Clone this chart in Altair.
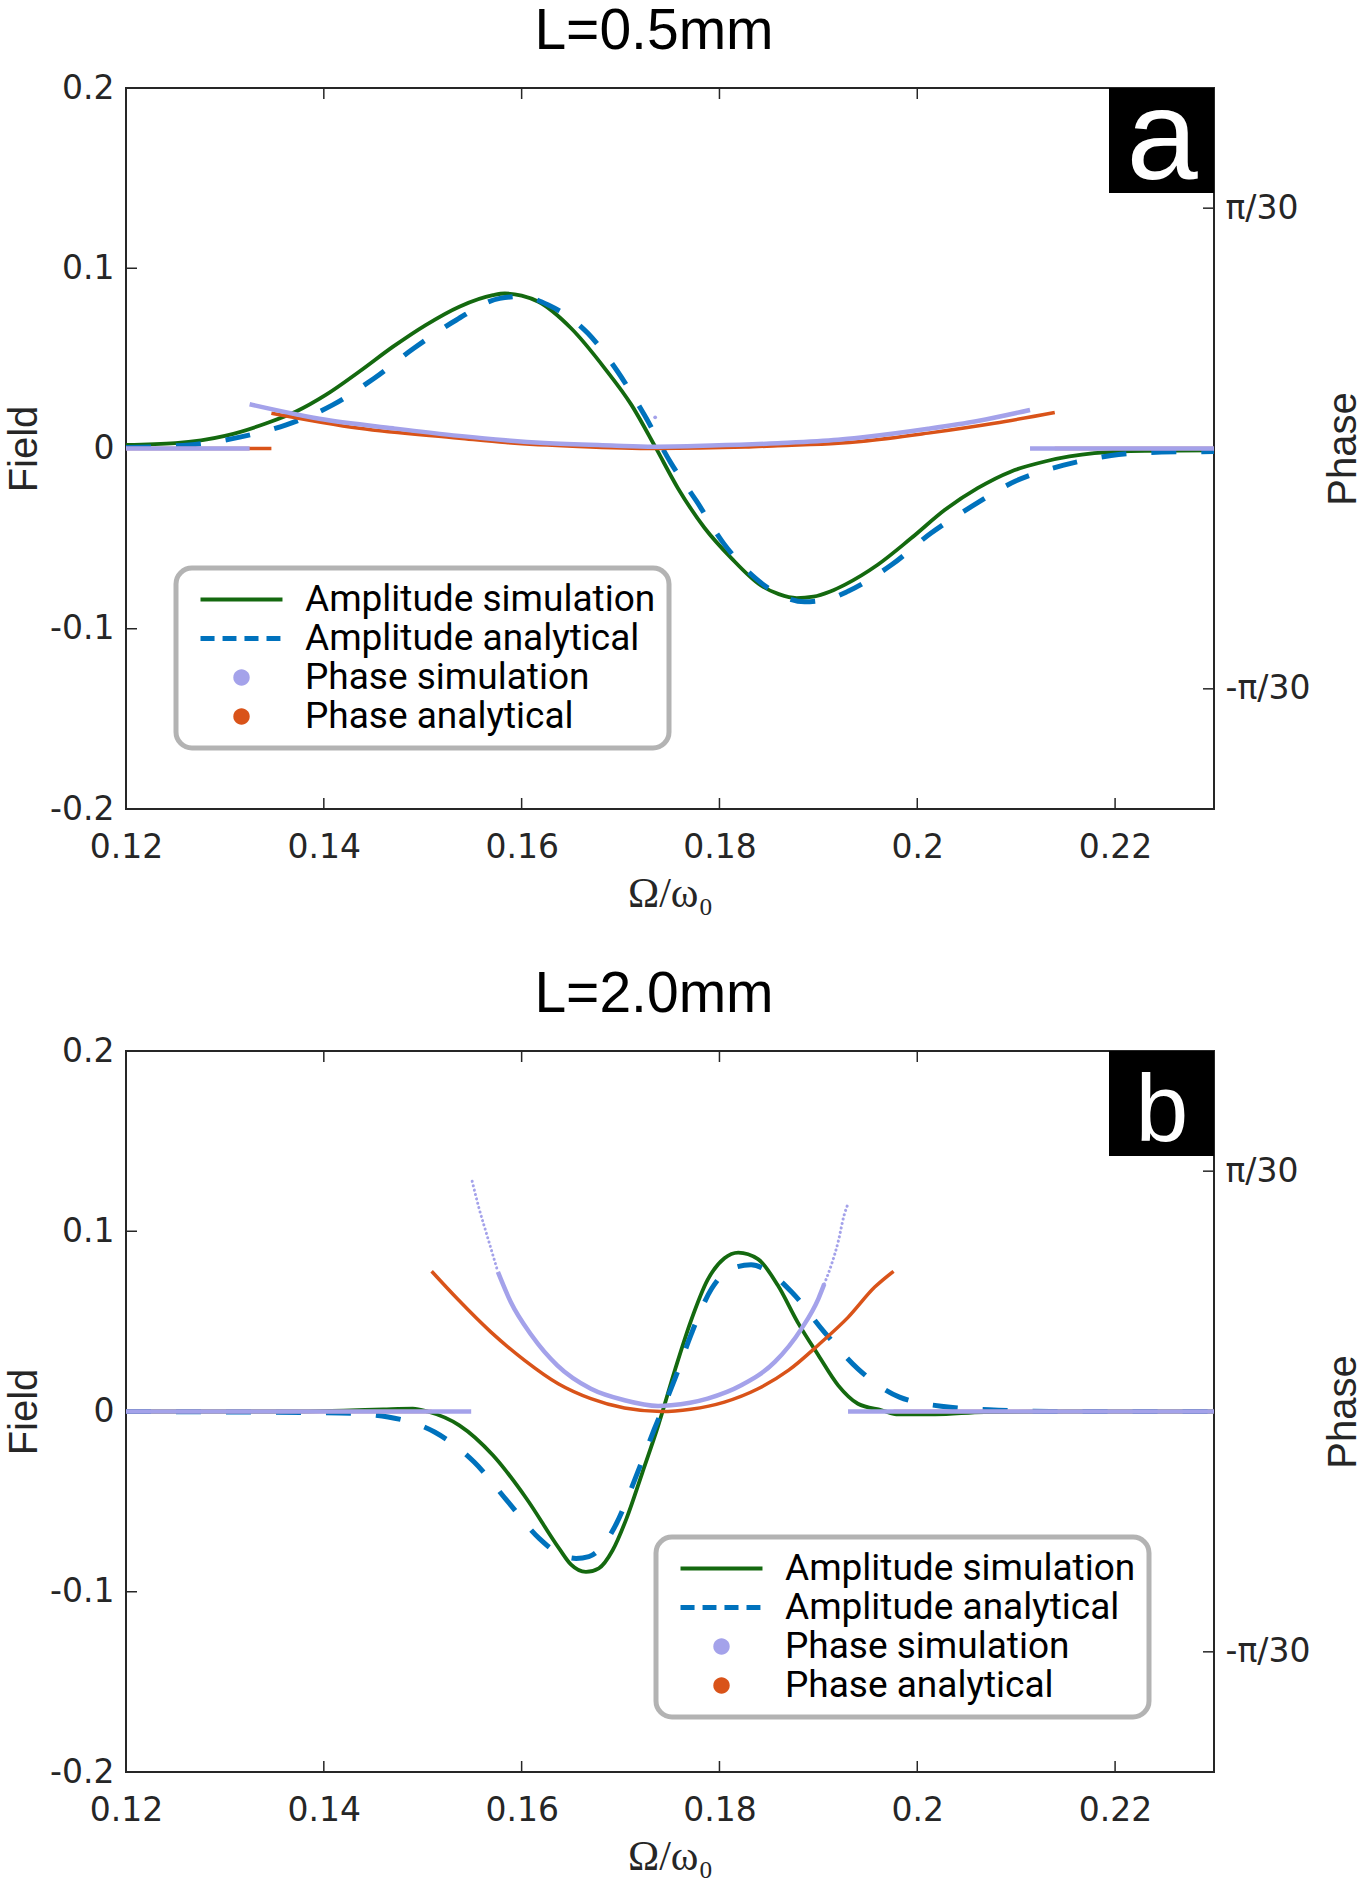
import math
import pandas as pd
import altair as alt

# plot-area size of each panel (pixels)
W, H = 1088, 721

X_DOMAIN = [0.12, 0.23]
X_TICKS = [0.12, 0.14, 0.16, 0.18, 0.2, 0.22]
FIELD_DOMAIN = [-0.2, 0.2]
FIELD_TICKS = [-0.2, -0.1, 0, 0.1, 0.2]
PHASE_DOMAIN = [-math.pi / 20, math.pi / 20]
PHASE_TICKS = [-math.pi / 30, math.pi / 30]

SERIES = ["Amplitude simulation", "Amplitude analytical", "Phase simulation", "Phase analytical"]
GREEN, BLUE, LAVENDER, ORANGE = "#14690F", "#0072BD", "#A4A2EA", "#D95319"
AXIS_COLOR = "#262626"

# ---------------- L = 0.5 mm ----------------
a_amp_sim_x = [0.1200, 0.1250, 0.1300, 0.1342, 0.1372, 0.1402, 0.1436, 0.1470, 0.1503, 0.1537,
               0.1571, 0.1583, 0.1600, 0.1617, 0.1650, 0.1684, 0.1711, 0.1735, 0.1758, 0.1785,
               0.1812, 0.1842, 0.1860, 0.1878, 0.1895, 0.1912, 0.1927, 0.1960, 0.1994, 0.2028,
               0.2061, 0.2095, 0.2129, 0.2179, 0.2230, 0.2300]
a_amp_sim_y = [0.0020, 0.0030, 0.0070, 0.0140, 0.0205, 0.0297, 0.0427, 0.0565, 0.0685, 0.0787,
               0.0851, 0.0860, 0.0848, 0.0814, 0.0667, 0.0445, 0.0242, 0.0010, -0.0220, -0.0441,
               -0.0608, -0.0760, -0.0808, -0.0830, -0.0822, -0.0793, -0.0755, -0.0645, -0.0497, -0.0340,
               -0.0220, -0.0127, -0.0072, -0.0026, -0.0013, -0.0010]

a_amp_ana_x = [0.1200, 0.1264, 0.1315, 0.1362, 0.1409, 0.1451, 0.1491, 0.1534, 0.1578, 0.1600,
               0.1627, 0.1667, 0.1697, 0.1724, 0.1751, 0.1777, 0.1804, 0.1836, 0.1862, 0.1886,
               0.1910, 0.1930, 0.1974, 0.2014, 0.2055, 0.2100, 0.2147, 0.2196, 0.2247, 0.2300]
a_amp_ana_y = [0.0005, 0.0020, 0.0063, 0.0131, 0.0242, 0.0390, 0.0556, 0.0713, 0.0833, 0.0843,
               0.0796, 0.0639, 0.0427, 0.0187, -0.0081, -0.0294, -0.0525, -0.0718, -0.0815, -0.0850,
               -0.0835, -0.0792, -0.0645, -0.0469, -0.0321, -0.0179, -0.0094, -0.0039, -0.0020, -0.0017]

# phase traces: (style, x, phase) for each connected piece
a_phase_sim = [
    ("solid", [0.1200, 0.1325], [0.0, 0.0]),
    ("solid", [0.1325, 0.1402, 0.1470, 0.1537, 0.1584, 0.1623, 0.1691, 0.1733, 0.1792, 0.1859,
               0.1920, 0.1943, 0.2011, 0.2061, 0.2114],
              [0.0193, 0.0125, 0.0088, 0.0055, 0.0036, 0.0024, 0.0013, 0.0008, 0.0013, 0.0023,
               0.0038, 0.0048, 0.0086, 0.0120, 0.0168]),
    ("solid", [0.2114, 0.2300], [0.0, 0.0]),
]
a_phase_sim_stray_x = [0.1735]
a_phase_sim_stray_y = [0.0136]

a_phase_ana = [
    ("solid", [0.1200, 0.1347], [0.0, 0.0]),
    ("solid", [0.1347, 0.1436, 0.1537, 0.1584, 0.1657, 0.1735, 0.1826, 0.1859, 0.1920, 0.1943,
               0.2011, 0.2078, 0.2139],
              [0.0154, 0.0088, 0.0045, 0.0026, 0.0009, 0.0000, 0.0006, 0.0012, 0.0023, 0.0031,
               0.0067, 0.0110, 0.0157]),
    ("solid", [0.2139, 0.2300], [0.0, 0.0]),
]

# ---------------- L = 2.0 mm ----------------
b_amp_sim_x = [0.1200, 0.1350, 0.1420, 0.1460, 0.1490, 0.1505, 0.1537, 0.1571, 0.1605, 0.1638,
               0.1650, 0.1665, 0.1678, 0.1692, 0.1706, 0.1722, 0.1738, 0.1755, 0.1771, 0.1788,
               0.1805, 0.1819, 0.1839, 0.1859, 0.1879, 0.1900, 0.1920, 0.1940, 0.1964, 0.1981,
               0.2018, 0.2068, 0.2150, 0.2300]
b_amp_sim_y = [0.0000, 0.0000, 0.0005, 0.0012, 0.0016, 0.0000, -0.0077, -0.0243, -0.0484, -0.0761,
               -0.0850, -0.0890, -0.0870, -0.0770, -0.0594, -0.0340, -0.0080, 0.0230, 0.0500, 0.0730,
               0.0850, 0.0881, 0.0845, 0.0700, 0.0496, 0.0312, 0.0145, 0.0043, 0.0007, -0.0016,
               -0.0016, -0.0003, 0.0000, 0.0000]

b_amp_ana_x = [0.1200, 0.1416, 0.1465, 0.1512, 0.1552, 0.1585, 0.1618, 0.1638, 0.1655, 0.1668,
               0.1682, 0.1696, 0.1715, 0.1734, 0.1755, 0.1771, 0.1792, 0.1812, 0.1832, 0.1850,
               0.1873, 0.1906, 0.1940, 0.1982, 0.2031, 0.2082, 0.2136, 0.2300]
b_amp_ana_y = [0.0000, -0.0008, -0.0030, -0.0114, -0.0280, -0.0493, -0.0705, -0.0790, -0.0815, -0.0805,
               -0.0745, -0.0620, -0.0370, -0.0100, 0.0182, 0.0423, 0.0681, 0.0792, 0.0814, 0.0775,
               0.0663, 0.0441, 0.0237, 0.0080, 0.0025, 0.0007, 0.0000, 0.0000]

b_phase_sim = [
    ("solid", [0.1200, 0.1549], [0.0, 0.0]),
    ("dotted", [0.1550, 0.1557, 0.1566, 0.1576], [0.1003, 0.0884, 0.0753, 0.0608]),
    ("solid", [0.1576, 0.1589, 0.1610, 0.1636, 0.1670, 0.1704, 0.1738, 0.1751, 0.1788, 0.1822,
               0.1856, 0.1883, 0.1900, 0.1906],
              [0.0608, 0.0477, 0.0332, 0.0201, 0.0099, 0.0049, 0.0024, 0.0027, 0.0056, 0.0114,
               0.0216, 0.0361, 0.0491, 0.0556]),
    ("dotted", [0.1906, 0.1913, 0.1920, 0.1926, 0.1930], [0.0556, 0.0637, 0.0739, 0.0855, 0.0905]),
    ("solid", [0.1930, 0.2300], [0.0, 0.0]),
]
b_phase_sim_stray_x = []
b_phase_sim_stray_y = []

b_phase_ana = [
    ("solid", [0.1200, 0.1509], [0.0, 0.0]),
    ("solid", [0.1509, 0.1535, 0.1569, 0.1603, 0.1637, 0.1670, 0.1704, 0.1741, 0.1771, 0.1805,
               0.1839, 0.1870, 0.1900, 0.1930, 0.1957, 0.1976],
              [0.0611, 0.0491, 0.0346, 0.0223, 0.0121, 0.0056, 0.0015, 0.0000, 0.0010, 0.0041,
               0.0099, 0.0180, 0.0290, 0.0410, 0.0542, 0.0611]),
    ("solid", [0.1976, 0.2300], [0.0, 0.0]),
]

# legend symbols (custom paths, drawn filled)
LINE_PATH = "M-4,-0.19H4V0.19H-4Z"
DASH_PATH = ("M-4,-0.24H-2.63V0.24H-4Z M-1.85,-0.24H-0.49V0.24H-1.85Z "
             "M0.29,-0.24H1.66V0.24H0.29Z M2.44,-0.24H3.8V0.24H2.44Z")
DOT_PATH = "M-0.8,0A0.8,0.8 0 1,1 0.8,0A0.8,0.8 0 1,1 -0.8,0Z"

X_AXIS = alt.Axis(orient="bottom", values=X_TICKS, labelExpr="'' + datum.value", labelFlush=False,
                  labelPadding=22, title="Ω/ω₀", titleFont="Liberation Serif", titleFontSize=42,
                  titlePadding=9)
FIELD_AXIS = alt.Axis(orient="left", values=FIELD_TICKS, labelExpr="'' + datum.value", labelFlush=False,
                      labelPadding=12, title="Field", titlePadding=5)
PHASE_AXIS = alt.Axis(orient="right", values=PHASE_TICKS,
                      labelExpr="datum.value > 0 ? 'π/30' : '-π/30'", labelFlush=False,
                      labelPadding=11, title="Phase", titleAngle=270, titleBaseline="top",
                      titlePadding=14)


def x_enc():
    return alt.X("x:Q", scale=alt.Scale(domain=X_DOMAIN, nice=False, zero=False), axis=X_AXIS)


def field_enc():
    return alt.Y("v:Q", scale=alt.Scale(domain=FIELD_DOMAIN, nice=False, zero=False), axis=FIELD_AXIS)


def phase_enc():
    return alt.Y("v:Q", scale=alt.Scale(domain=PHASE_DOMAIN, nice=False, zero=False), axis=PHASE_AXIS)


def seg_frame(segments):
    rows = []
    for i, (style, xs, vs) in enumerate(segments):
        for x, v in zip(xs, vs):
            rows.append({"x": x, "v": v, "seg": i, "style": style})
    return pd.DataFrame(rows)


def panel(title_text, amp_sim, amp_ana, ph_sim, ph_ana, stray, legend_xy, letter, letter_size, letter_y):
    sim_df = pd.DataFrame({"x": amp_sim[0], "v": amp_sim[1]})
    ana_df = pd.DataFrame({"x": amp_ana[0], "v": amp_ana[1]})
    psim_df = seg_frame(ph_sim)
    pana_df = seg_frame(ph_ana)

    # amplitude traces on the Field axis
    green = alt.Chart(sim_df).mark_line(color=GREEN, strokeWidth=3.8, interpolate="monotone").encode(
        x=x_enc(), y=field_enc())
    blue = alt.Chart(ana_df).mark_line(color=BLUE, strokeWidth=5, strokeDash=[25, 25],
                                       interpolate="monotone").encode(x=x_enc(), y=field_enc())
    left_ticks = alt.Chart(pd.DataFrame({"v": FIELD_TICKS[1:-1]})).mark_rule(
        color=AXIS_COLOR, strokeWidth=1.5).encode(y=field_enc(), x=alt.value(0), x2=alt.value(11))

    leg = alt.Legend(title=None, orient="none", legendX=legend_xy[0], legendY=legend_xy[1],
                     direction="vertical", fillColor="white", strokeColor="#B3B3B3", cornerRadius=16,
                     padding=13, labelFont="Roboto", labelFontSize=37, labelColor="black",
                     labelLimit=600, symbolSize=420, symbolStrokeWidth=0, symbolOffset=34,
                     symbolOpacity=1, labelOffset=45, rowPadding=1)
    legend_layer = alt.Chart(pd.DataFrame({"series": SERIES})).transform_filter("false").mark_point(
        filled=True, opacity=1).encode(
        color=alt.Color("series:N", scale=alt.Scale(domain=SERIES, range=[GREEN, BLUE, LAVENDER, ORANGE]),
                        legend=leg),
        shape=alt.Shape("series:N", scale=alt.Scale(domain=SERIES,
                                                    range=[LINE_PATH, DASH_PATH, DOT_PATH, DOT_PATH]),
                        legend=leg),
    )
    amp_layer = alt.layer(green, blue, left_ticks, legend_layer)

    # phase traces on the Phase axis
    orange = alt.Chart(pana_df).mark_line(color=ORANGE, strokeWidth=3.5, interpolate="monotone").encode(
        x=x_enc(), y=phase_enc(), detail="seg:N")
    lav_solid = alt.Chart(psim_df).transform_filter("datum.style == 'solid'").mark_line(
        color=LAVENDER, strokeWidth=4.5, interpolate="monotone").encode(
        x=x_enc(), y=phase_enc(), detail="seg:N")
    phase_parts = [orange, lav_solid]
    if (psim_df["style"] == "dotted").any():
        lav_dotted = alt.Chart(psim_df).transform_filter("datum.style == 'dotted'").mark_line(
            color=LAVENDER, strokeWidth=3, strokeDash=[0.1, 4.4], strokeCap="round",
            interpolate="monotone").encode(x=x_enc(), y=phase_enc(), detail="seg:N")
        phase_parts.append(lav_dotted)
    if len(stray[0]):
        phase_parts.append(alt.Chart(pd.DataFrame({"x": stray[0], "v": stray[1]})).mark_circle(
            color=LAVENDER, size=14, opacity=1).encode(x=x_enc(), y=phase_enc()))
    right_ticks = alt.Chart(pd.DataFrame({"v": PHASE_TICKS})).mark_rule(
        color=AXIS_COLOR, strokeWidth=1.5).encode(y=phase_enc(), x=alt.value(W - 11), x2=alt.value(W))
    phase_parts.append(right_ticks)
    phase_layer = alt.layer(*phase_parts)

    # inward x ticks on bottom and top edges, and the panel badge
    xt_df = pd.DataFrame({"x": X_TICKS[1:]})
    xt_bottom = alt.Chart(xt_df).mark_rule(color=AXIS_COLOR, strokeWidth=1.5).encode(
        x=x_enc(), y=alt.value(H), y2=alt.value(H - 11))
    xt_top = alt.Chart(xt_df).mark_rule(color=AXIS_COLOR, strokeWidth=1.5).encode(
        x=x_enc(), y=alt.value(0), y2=alt.value(11))
    badge_df = pd.DataFrame({"label": [letter]})
    box = alt.Chart(badge_df).mark_rect(color="black").encode(
        x=alt.value(W - 105), x2=alt.value(W), y=alt.value(0), y2=alt.value(105))
    badge = alt.Chart(badge_df).mark_text(color="white", font="Liberation Sans", fontSize=letter_size,
                                          align="center", baseline="alphabetic").encode(
        text="label:N", x=alt.value(W - 52), y=alt.value(letter_y))
    deco_layer = alt.layer(xt_bottom, xt_top, box, badge)

    return alt.layer(amp_layer, phase_layer, deco_layer).resolve_scale(y="independent").properties(
        width=W, height=H,
        title=alt.Title(text=title_text, font="Liberation Sans", fontSize=57, fontWeight="normal",
                        color="black", offset=11, dx=-16, anchor="middle"),
    )


top = panel("L=0.5mm", (a_amp_sim_x, a_amp_sim_y), (a_amp_ana_x, a_amp_ana_y), a_phase_sim, a_phase_ana,
            (a_phase_sim_stray_x, a_phase_sim_stray_y), (50, 480), "a", 128, 91)
bottom = panel("L=2.0mm", (b_amp_sim_x, b_amp_sim_y), (b_amp_ana_x, b_amp_ana_y), b_phase_sim, b_phase_ana,
               (b_phase_sim_stray_x, b_phase_sim_stray_y), (530, 486), "b", 95, 90)

chart = (
    alt.vconcat(top, bottom, spacing=242, bounds="flush",
                padding={"left": 3, "top": 2, "right": 0, "bottom": 0})
    .resolve_scale(color="independent", shape="independent")
    .configure_view(stroke=AXIS_COLOR, strokeWidth=2)
    .configure_axis(grid=False, domain=False, ticks=False, tickSize=0, labelFont="DejaVu Sans",
                    labelFontSize=33, labelColor=AXIS_COLOR, titleFont="Liberation Sans",
                    titleFontSize=40, titleFontWeight="normal", titleColor=AXIS_COLOR)
    .configure_legend(strokeWidth=5)
)

chart.save("out.html", embed_options={"renderer": "svg", "actions": False})
